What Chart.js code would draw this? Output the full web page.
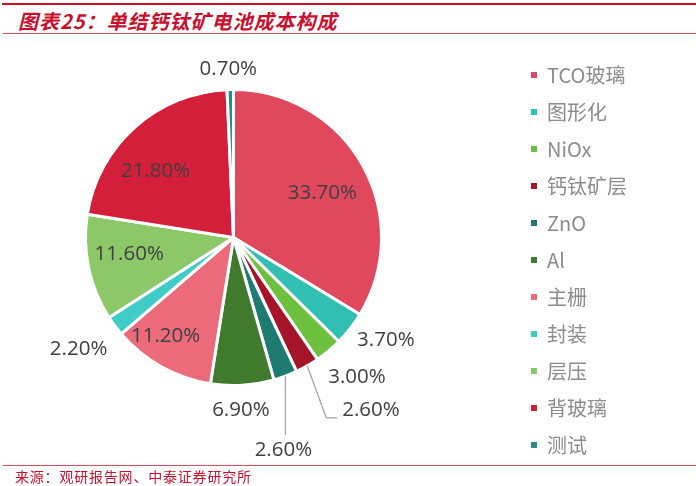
<!DOCTYPE html>
<html>
<head>
<meta charset="utf-8">
<script src="https://cdn.jsdelivr.net/npm/chart.js@4.4.1/dist/chart.umd.min.js"></script>
<style>
  html, body { margin: 0; padding: 0; background: #fff; }
  #wrap { position: relative; width: 696px; height: 486px; overflow: hidden; }
  #chart { position: absolute; left: 0; top: 0; }
  .rule-top { position: absolute; left: 2px; right: 0; top: 3px; height: 2px; background: #d0102a; }
  .rule-sub { position: absolute; left: 3px; right: 0; top: 33px; height: 1px; background: #d9505f; }
  .rule-foot { position: absolute; left: 3px; right: 0; top: 465px; height: 1px; background: #d9505f; }
  .title { position: absolute; left: 18px; top: 8px; font: italic bold 20px "Noto Sans CJK SC", sans-serif;
           letter-spacing: 1px; color: #c8102e; line-height: 26px; }
  .source { position: absolute; left: 15px; top: 467px; font: 14px "Noto Sans CJK SC", sans-serif;
            letter-spacing: 0.8px; color: #c8102e; line-height: 18px; }
  #legend { position: absolute; left: 531px; top: 56px; }
  .item { height: 37px; display: flex; align-items: center; font: 20px "Noto Sans CJK SC", sans-serif; color: #8c8c8c; }
  .item span.box { width: 6px; height: 6px; margin-right: 10px; display: inline-block; }
</style>
</head>
<body>
<div id="wrap">
  <div class="rule-top"></div>
  <div class="title">图表25：单结钙钛矿电池成本构成</div>
  <div class="rule-sub"></div>
  <canvas id="chart" width="696" height="486"></canvas>
  <div id="legend"></div>
  <div class="rule-foot"></div>
  <div class="source">来源：观研报告网、中泰证券研究所</div>
</div>
<script>
const labels = ['TCO玻璃', '图形化', 'NiOx', '钙钛矿层', 'ZnO', 'Al', '主栅', '封装', '层压', '背玻璃', '测试'];
const shares = [33.7, 3.7, 3.0, 2.6, 2.6, 6.9, 11.2, 2.2, 11.6, 21.8, 0.7];
const colors = ['#e0485e', '#31bfb3', '#6dc13f', '#a61429', '#1f7b72', '#3f7a2d',
                '#ec6b7b', '#3fcbc6', '#8cc868', '#d31f3a', '#2b8c8e'];

// labels for the two thin 2.60% slices sit at the end of a leader line
const leaders = {
  3: { dx: 19, dy: 52, tail: 11 },
  4: { dx: 0, dy: 59, tail: 0 }
};
// small hand nudges (px) so the labels land where the original placed them
const nudges = [[-4, 8], [2, -3], [1, 8], [0, 0], [0, 0], [-4, 1],
                [-16, 6], [-2, 9], [0, -5], [-7, 13], [-1, 4]];

const sliceLabels = {
  id: 'sliceLabels',
  afterDatasetsDraw(chart) {
    const ctx = chart.ctx;
    const meta = chart.getDatasetMeta(0);
    ctx.save();
    ctx.font = '20.5px "Open Sans", sans-serif';
    ctx.fillStyle = '#404040';
    meta.data.forEach((arc, i) => {
      const v = shares[i];
      const text = v.toFixed(2) + '%';
      const mid = (arc.startAngle + arc.endAngle) / 2;
      const cx = Math.cos(mid), cy = Math.sin(mid);
      const r = arc.outerRadius;
      const w = ctx.measureText(text).width;
      const [nx, ny] = nudges[i];
      if (v >= 10) {
        ctx.textAlign = 'center';
        ctx.textBaseline = 'middle';
        ctx.fillText(text, arc.x + cx * r * 0.72 + nx, arc.y + cy * r * 0.72 + ny);
      } else if (leaders[i]) {
        const L = leaders[i];
        const sx = arc.x + cx * r, sy = arc.y + cy * r;
        const ex = sx + L.dx, ey = sy + L.dy;
        ctx.strokeStyle = '#a6a6a6';
        ctx.lineWidth = 1.3;
        ctx.beginPath();
        ctx.moveTo(sx, sy);
        ctx.lineTo(ex, ey);
        ctx.lineTo(ex + L.tail, ey);
        ctx.stroke();
        ctx.textBaseline = 'middle';
        if (L.tail > 0) {
          ctx.textAlign = 'left';
          ctx.fillText(text, ex + L.tail + 5, ey - 8);
        } else {
          ctx.textAlign = 'center';
          ctx.fillText(text, ex - 2, ey + 15);
        }
      } else {
        const px = arc.x + cx * (r + 14), py = arc.y + cy * (r + 14);
        ctx.textAlign = 'center';
        ctx.textBaseline = 'middle';
        ctx.fillText(text, px + cx * w / 2 + nx, py + cy * 10 + ny);
      }
    });
    ctx.restore();
  }
};

new Chart(document.getElementById('chart').getContext('2d'), {
  type: 'pie',
  data: {
    labels: labels,
    datasets: [{
      data: shares,
      backgroundColor: colors,
      borderColor: '#ffffff',
      borderWidth: 3
    }]
  },
  options: {
    responsive: false,
    animation: false,
    radius: 148,
    layout: { padding: { left: 0, top: 0, right: 229, bottom: 11 } },
    plugins: {
      legend: { display: false },
      tooltip: { enabled: false }
    }
  },
  plugins: [sliceLabels]
});

// legend built from the same arrays
const legend = document.getElementById('legend');
labels.forEach((name, i) => {
  const row = document.createElement('div');
  row.className = 'item';
  const box = document.createElement('span');
  box.className = 'box';
  box.style.background = colors[i];
  row.appendChild(box);
  row.appendChild(document.createTextNode(name));
  legend.appendChild(row);
});
</script>
</body>
</html>
